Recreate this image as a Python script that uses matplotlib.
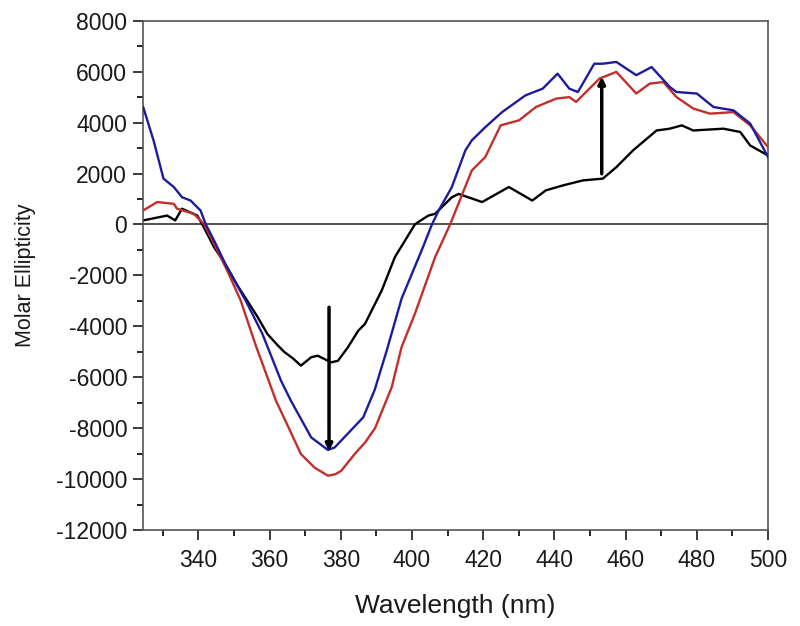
import matplotlib
matplotlib.use("Agg")
import matplotlib.pyplot as plt
from matplotlib.ticker import MultipleLocator

plt.rcParams['font.family'] = ['Liberation Sans', 'DejaVu Sans']
plt.rcParams['axes.unicode_minus'] = False

# Blue spectrum
blue_x = [324.5, 327.4, 330.2, 333.1, 335.4, 337.8, 340.6, 342.1, 344.4, 348.1, 353.3,
          358.0, 363.2, 366.0, 371.7, 376.4, 378.3, 386.3, 389.5, 392.9, 397.1,
          402.7, 405.6, 407.5, 411.2, 415.0, 416.8, 420.6, 425.3, 431.9, 436.7, 440.9,
          444.2, 446.6, 451.2, 453.6, 457.4, 463.0, 467.3, 472.4, 474.3, 480.0, 484.7,
          490.3, 495.0, 500.0]
blue_y = [4610, 3300, 1800, 1470, 1070, 940, 550, 0, -630, -1700, -2990,
          -4300, -6130, -6920, -8360, -8850, -8750, -7570, -6500, -4950, -2900,
          -1020, 0, 550, 1470, 2910, 3300, 3820, 4410, 5070, 5330, 5920,
          5330, 5200, 6310, 6310, 6380, 5860, 6180, 5400, 5200, 5140, 4610,
          4480, 3960, 2650]

# Red spectrum
red_x = [324.5, 328.4, 333.1, 334.0, 338.7, 341.5, 344.4, 348.1, 351.9, 356.0, 361.8,
         365.1, 368.8, 372.6, 376.4, 378.5, 380.1, 383.9, 386.8, 389.6, 394.3, 397.1,
         400.8, 406.5, 410.7, 416.8, 420.6, 424.9, 430.1, 434.8, 440.5, 444.2, 446.1,
         452.7, 457.4, 463.0, 466.8, 470.6, 474.3, 479.0, 483.7, 490.3, 495.0, 500.0]
red_y = [550, 880, 810, 620, 420, 30, -760, -1810, -2990, -4700, -6920,
         -7900, -9010, -9540, -9860, -9800, -9670, -9010, -8560, -8000, -6390, -4800,
         -3510, -1280, 0, 2120, 2650, 3890, 4090, 4610, 4940, 5000, 4810,
         5730, 5990, 5140, 5530, 5590, 5000, 4550, 4350, 4410, 3890, 3040]

# Black spectrum
black_x = [324.5, 331.2, 333.5, 335.4, 339.7, 341.5, 344.4, 348.1, 351.0, 353.3, 356.5,
           359.4, 362.0, 364.1, 366.5, 368.8, 371.7, 373.5, 377.3, 379.2, 382.0, 384.9,
           386.8, 391.5, 395.2, 400.8, 401.7, 404.6, 406.5, 411.2, 413.1, 419.7, 427.2,
           433.8, 437.6, 442.3, 448.0, 453.6, 457.4, 462.1, 468.7, 472.4, 475.8, 479.0,
           487.5, 492.2, 495.0, 500.0]
black_y = [160, 350, 160, 620, 350, -100, -890, -1680, -2400, -2900, -3600,
           -4300, -4700, -5000, -5250, -5540, -5210, -5150, -5410, -5350, -4820, -4170,
           -3900, -2590, -1280, 0, 90, 350, 420, 1070, 1200, 880, 1470,
           940, 1340, 1530, 1730, 1800, 2250, 2910, 3690, 3760, 3890, 3690,
           3760, 3630, 3100, 2710]

# Arrows (x, y_start, y_end)
arrow_down = (376.7, -3250, -8900)
arrow_up = (453.3, 1990, 5800)

fig = plt.figure(figsize=(8, 6.26), dpi=100)
ax = fig.add_axes([0.179, 0.153, 0.781, 0.814])

ax.axhline(0, color='#333333', lw=1.2, zorder=1)
ax.plot(black_x, black_y, color='black', lw=1.7, zorder=2)
ax.plot(red_x, red_y, color='#c0302a', lw=1.7, zorder=3)
ax.plot(blue_x, blue_y, color='#1c1c9c', lw=1.7, zorder=4)

for (ax_x, y0, y1) in (arrow_down, arrow_up):
    ax.annotate('', xy=(ax_x, y1), xytext=(ax_x, y0),
                arrowprops=dict(arrowstyle='-|>', color='black', lw=2.5,
                                mutation_scale=10, shrinkA=0, shrinkB=0), zorder=5)

ax.set_xlim(324.5, 500)
ax.set_ylim(-12000, 8000)
ax.xaxis.set_major_locator(MultipleLocator(20))
ax.xaxis.set_minor_locator(MultipleLocator(10))
ax.yaxis.set_major_locator(MultipleLocator(2000))
ax.yaxis.set_minor_locator(MultipleLocator(1000))
ax.tick_params(which='major', direction='out', length=7.5, width=1.2, labelsize=16.5,
               colors='#1a1a1a')
ax.tick_params(which='minor', direction='out', length=4.5, width=1.2)
ax.tick_params(axis='x', pad=6)
ax.tick_params(axis='y', pad=4)
for s in ax.spines.values():
    s.set_color('#555555')
    s.set_linewidth(1.2)

ax.set_xlabel('Wavelength (nm)', fontsize=19, color='#1a1a1a', labelpad=16)
ax.set_ylabel('Molar Ellipticity', fontsize=15.5, color='#1a1a1a', labelpad=14)

fig.savefig('out.png', dpi=100)
